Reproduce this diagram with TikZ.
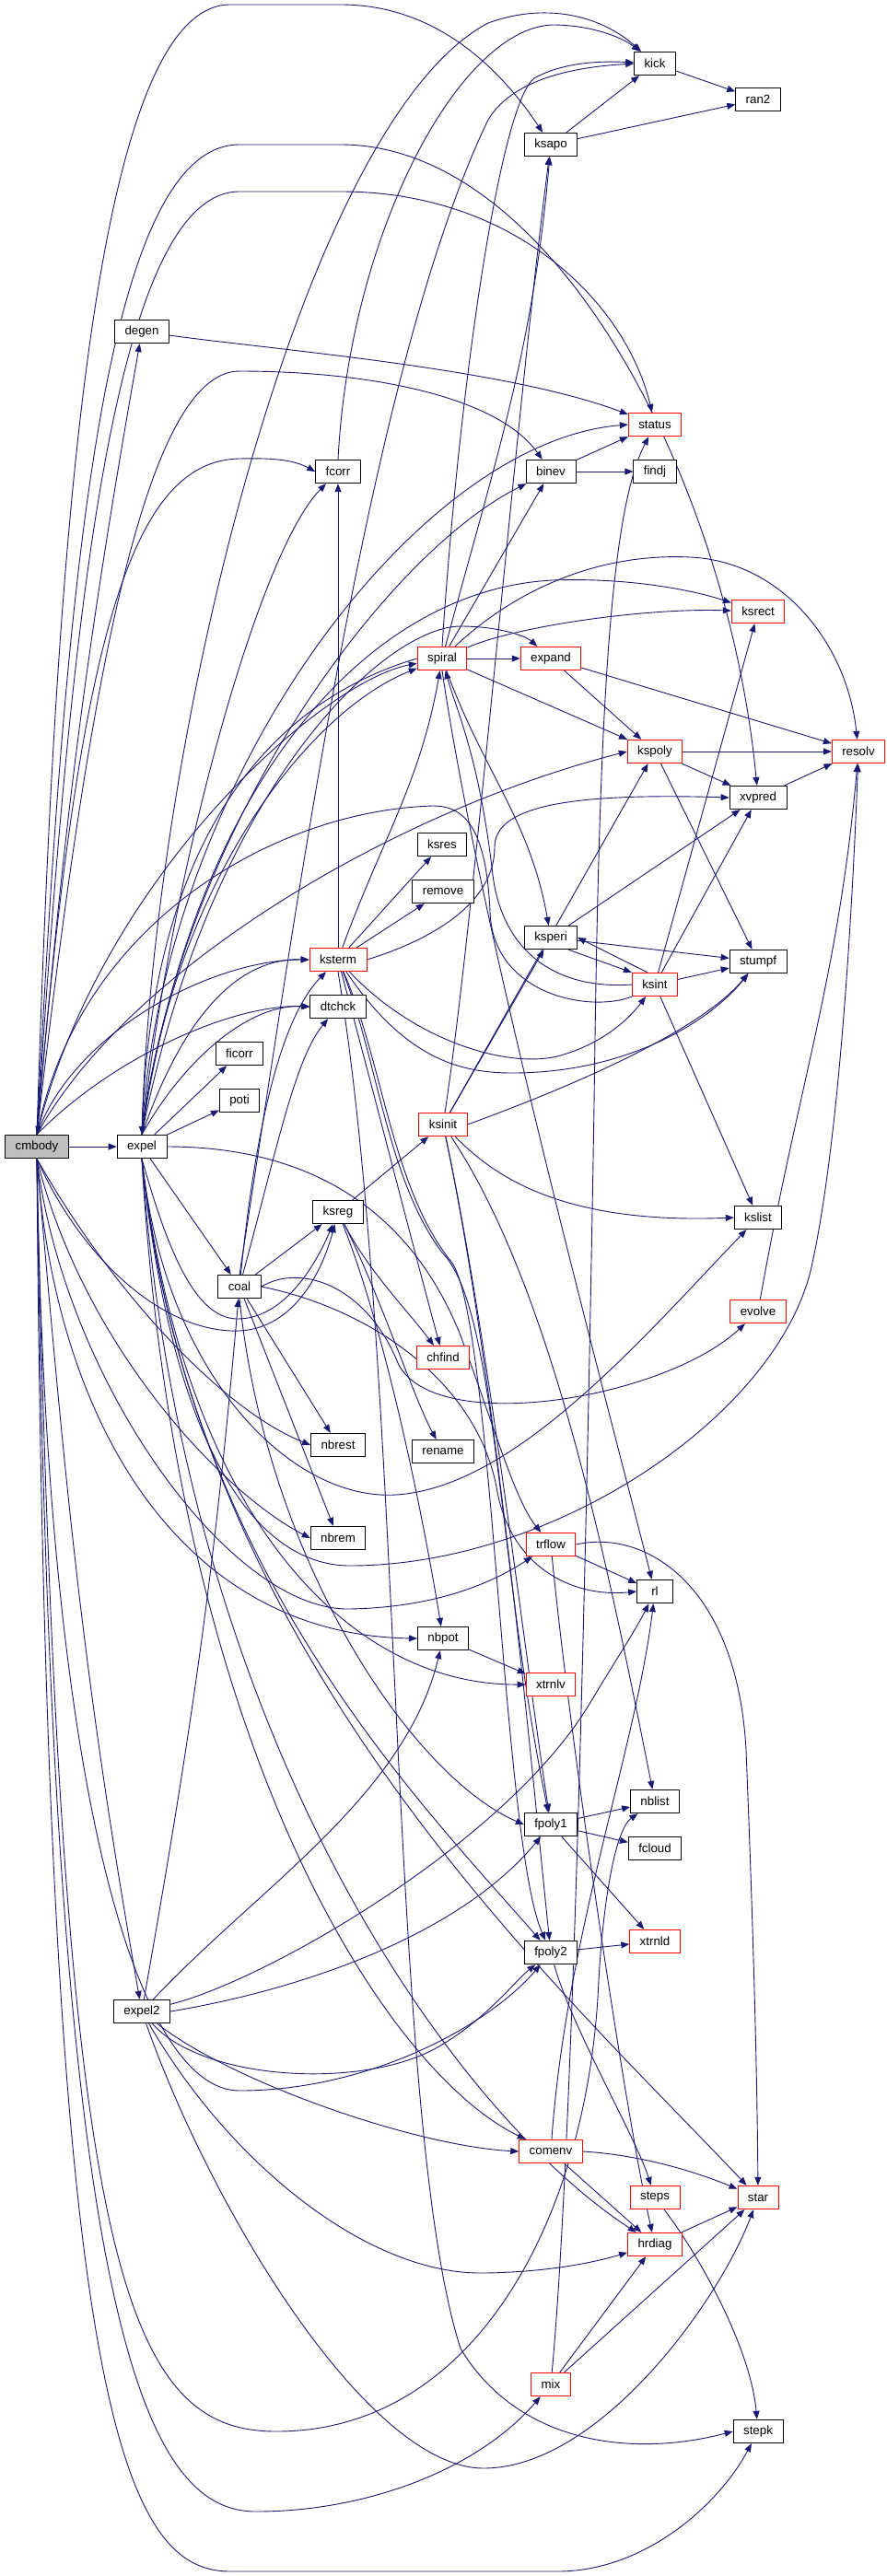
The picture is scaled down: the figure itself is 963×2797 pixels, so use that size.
\documentclass[tikz,border=0pt]{standalone}
\usepackage{fontspec}
\setmainfont{Liberation Sans}
\usetikzlibrary{arrows.meta,backgrounds}
\definecolor{edgeblue}{HTML}{191970}
\definecolor{rootgray}{HTML}{BFBFBF}

\begin{document}
\begin{tikzpicture}[x=1pt,y=1pt,
    fn/.style={draw=black,line width=0.8pt,fill=white,inner xsep=11pt,inner ysep=0pt,
      minimum height=25.5pt,minimum width=39pt,font=\fontsize{13.3}{15}\selectfont},
    fnred/.style={fn,draw=red},
    fnroot/.style={fn,fill=rootgray},
    call/.style={draw=edgeblue,line width=0.9pt,-{Triangle[length=9pt,width=7pt]}}]
    \useasboundingbox (0,0) rectangle (963,-2797);

    % rank 0 and 1
    \node[fnroot] (cmbody) at (40,-1245) {cmbody};
    \node[fn] (expel) at (154,-1245) {expel};
    \node[fn] (degen) at (154,-360) {degen};
    \node[fn] (expel2) at (154,-2184) {expel2};
    % rank 2
    \node[fn] (ficorr) at (260,-1144) {ficorr};
    \node[fn] (poti) at (260,-1195) {poti};
    \node[fn] (coal) at (260,-1397) {coal};
    \node[fn] (fcorr) at (367,-512) {fcorr};
    \node[fnred] (ksterm) at (367,-1042) {ksterm};
    \node[fn] (dtchck) at (367,-1093) {dtchck};
    \node[fn] (ksreg) at (367,-1316) {ksreg};
    \node[fn] (nbrest) at (367,-1569) {nbrest};
    \node[fn] (nbrem) at (367,-1670) {nbrem};
    % rank 3
    \node[fnred] (spiral) at (480,-715) {spiral};
    \node[fn] (ksres) at (480,-917) {ksres};
    \node[fn] (remove) at (481,-968) {remove};
    \node[fnred] (ksinit) at (481,-1221) {ksinit};
    \node[fnred] (chfind) at (481,-1474) {chfind};
    \node[fn] (rename) at (481,-1576) {rename};
    \node[fn] (nbpot) at (481,-1779) {nbpot};
    % rank 4
    \node[fn] (ksapo) at (598,-157) {ksapo};
    \node[fn] (binev) at (598,-512) {binev};
    \node[fnred] (expand) at (598,-715) {expand};
    \node[fn] (ksperi) at (598,-1018) {ksperi};
    \node[fnred] (trflow) at (598,-1677) {trflow};
    \node[fnred] (xtrnlv) at (598,-1829) {xtrnlv};
    \node[fn] (fpoly1) at (598,-1981) {fpoly1};
    \node[fn] (fpoly2) at (598,-2120) {fpoly2};
    \node[fnred] (comenv) at (598,-2336) {comenv};
    \node[fnred] (mix) at (598,-2589) {mix};
    % rank 5
    \node[fn] (kick) at (711,-69) {kick};
    \node[fnred] (status) at (711,-461) {status};
    \node[fn] (findj) at (711,-512) {findj};
    \node[fnred] (kspoly) at (711,-816) {kspoly};
    \node[fnred] (ksint) at (711,-1069) {ksint};
    \node[fn] (rl) at (711,-1728) {rl};
    \node[fn] (nblist) at (711,-1956) {nblist};
    \node[fn] (fcloud) at (711,-2007) {fcloud};
    \node[fnred] (xtrnld) at (711,-2108) {xtrnld};
    \node[fnred] (steps) at (711,-2386) {steps};
    \node[fnred] (hrdiag) at (711,-2437) {hrdiag};
    % rank 6 and 7
    \node[fn] (ran2) at (823,-108) {ran2};
    \node[fnred] (ksrect) at (823,-664) {ksrect};
    \node[fn] (xvpred) at (823,-866) {xvpred};
    \node[fn] (stumpf) at (823,-1044) {stumpf};
    \node[fn] (kslist) at (823,-1322) {kslist};
    \node[fnred] (evolve) at (823,-1424) {evolve};
    \node[fnred] (star) at (823,-2386) {star};
    \node[fn] (stepk) at (823,-2640) {stepk};
    \node[fnred] (resolv) at (932,-816) {resolv};

    \begin{scope}[on background layer]
    \fill[white] (0,0) rectangle (963,-2797);

    % Arrows from cmbody
    \draw[call] (cmbody) -- (expel);
    \draw[call] (cmbody.north) to[out=85,in=-100] (degen);
    \draw[call] (cmbody.south) to[out=-85,in=100] (expel2);
    \draw[call] (cmbody.north) .. controls (60,-600) and (100,-5) .. (250,-5) -- (370,-5) .. controls (470,-5) and (540,-70) .. (ksapo);
    \draw[call] (cmbody.north) .. controls (70,-650) and (110,-157) .. (260,-157) -- (370,-157) .. controls (600,-157) and (790,-520) .. (xvpred);
    \draw[call] (cmbody.north) .. controls (75,-700) and (120,-208) .. (260,-208) -- (370,-208) .. controls (560,-208) and (680,-330) .. (status);
    \draw[call] (cmbody.north) .. controls (90,-800) and (150,-403) .. (260,-403) .. controls (400,-403) and (540,-430) .. (binev);
    \draw[call] (cmbody.north) .. controls (85,-700) and (140,-500) .. (260,-498) .. controls (300,-497) and (320,-500) .. (fcorr.west);
    \draw[call] (cmbody.north) .. controls (110,-950) and (350,-740) .. (spiral);
    \draw[call] (cmbody.north) .. controls (140,-1050) and (430,-880) .. (kspoly.west);
    \draw[call] (cmbody.north) .. controls (80,-1120) and (230,-1042) .. (ksterm.west);
    \draw[call] (cmbody.north) .. controls (120,-1150) and (250,-1090) .. (dtchck.west);
    \draw[call] (cmbody.south) .. controls (90,-1370) and (180,-1448) .. (260,-1445) .. controls (320,-1442) and (350,-1380) .. (ksreg);
    \draw[call] (cmbody.south) .. controls (120,-1400) and (240,-1530) .. (nbrest.west);
    \draw[call] (cmbody.south) .. controls (90,-1460) and (240,-1620) .. (nbrem.west);
    \draw[call] (cmbody.south) .. controls (70,-1500) and (250,-1750) .. (380,-1747) .. controls (480,-1745) and (540,-1715) .. (trflow);
    \draw[call] (cmbody.south) .. controls (60,-1550) and (200,-1775) .. (nbpot.west);
    \draw[call] (cmbody.south) .. controls (50,-1950) and (150,-2270) .. (260,-2270) .. controls (400,-2270) and (530,-2200) .. (fpoly2);
    \draw[call] (cmbody.south) .. controls (55,-2500) and (150,-2727) .. (278,-2727) .. controls (400,-2727) and (520,-2680) .. (mix);
    \draw[call] (cmbody.south) .. controls (50,-2600) and (130,-2792) .. (250,-2792) -- (605,-2792) .. controls (700,-2792) and (780,-2720) .. (stepk);
    \draw[call] (cmbody.south) .. controls (65,-2450) and (130,-2640) .. (300,-2640) .. controls (520,-2640) and (640,-2400) .. (650,-2150) .. controls (656,-2050) and (670,-1985) .. (nblist);
    \draw[call] (ksint.south west) .. controls (640,-1100) and (535,-1080) .. (532,-990) .. controls (528,-900) and (505,-875) .. (470,-875) .. controls (300,-880) and (90,-1000) .. (cmbody.north);

    % Arrows from expel
    \draw[call] (expel) -- (ficorr);
    \draw[call] (expel) -- (poti);
    \draw[call] (expel) -- (coal);
    \draw[call] (expel.north) .. controls (165,-800) and (330,-130) .. (530,-25) .. controls (590,-3) and (650,-15) .. (kick);
    \draw[call] (expel.north) .. controls (185,-950) and (280,-600) .. (fcorr);
    \draw[call] (expel.north) .. controls (175,-850) and (450,-480) .. (status.west);
    \draw[call] (expel.north) .. controls (195,-900) and (420,-600) .. (binev);
    \draw[call] (expel.north) .. controls (210,-850) and (400,-640) .. (600,-630) .. controls (680,-627) and (750,-640) .. (ksrect);
    \draw[call] (expel.north) .. controls (230,-850) and (420,-680) .. (500,-680) .. controls (540,-680) and (570,-690) .. (expand);
    \draw[call] (expel.north) .. controls (190,-950) and (340,-770) .. (spiral);
    \draw[call] (expel.north) .. controls (200,-1100) and (260,-1040) .. (ksterm.west);
    \draw[call] (expel.north) .. controls (200,-1150) and (270,-1090) .. (dtchck.west);
    \draw[call] (expel.south) .. controls (180,-1350) and (210,-1432) .. (258,-1432) .. controls (305,-1432) and (340,-1380) .. (ksreg);
    \draw[call] (expel.east) .. controls (320,-1245) and (440,-1300) .. (500,-1450) .. controls (540,-1560) and (560,-1630) .. (trflow);
    \draw[call] (expel.south) .. controls (200,-1650) and (380,-1830) .. (xtrnlv.west);
    \draw[call] (expel.south) .. controls (190,-1600) and (290,-1700) .. (380,-1700) .. controls (600,-1700) and (840,-1540) .. (880,-1380) .. controls (910,-1250) and (925,-1000) .. (resolv);
    \draw[call] (expel.south) .. controls (180,-1500) and (320,-1630) .. (430,-1623) .. controls (560,-1615) and (700,-1450) .. (kslist);
    \draw[call] (expel.south) .. controls (200,-1700) and (450,-1950) .. (fpoly2);
    \draw[call] (expel.south) .. controls (190,-1900) and (420,-2250) .. (comenv);
    \draw[call] (expel.south) .. controls (200,-1900) and (500,-2300) .. (hrdiag);
    \draw[call] (expel.south) .. controls (210,-1800) and (600,-2150) .. (star);

    % Arrows from spiral
    \draw[call] (spiral.west) .. controls (300,-760) and (165,-900) .. (expel.north);
    \draw[call] (spiral.north) .. controls (500,-400) and (545,-110) .. (580,-85) .. controls (610,-68) and (650,-66) .. (kick);
    \draw[call] (spiral) to[out=75,in=-95] (ksapo);
    \draw[call] (spiral) -- (binev);
    \draw[call] (spiral) -- (expand);
    \draw[call] (spiral) .. controls (560,-680) and (700,-660) .. (ksrect);
    \draw[call] (spiral) .. controls (560,-640) and (650,-600) .. (750,-605) .. controls (850,-610) and (920,-700) .. (resolv);
    \draw[call] (spiral) -- (kspoly);
    \draw[call] (spiral) to[out=-70,in=100] (ksperi);
    \draw[call] (spiral.south) .. controls (520,-1000) and (640,-1450) .. (rl);

    % Arrows in the upper right
    \draw[call] (degen) .. controls (300,-380) and (550,-400) .. (status);
    \draw[call] (kick) -- (ran2);
    \draw[call] (ksapo) -- (ran2);
    \draw[call] (ksapo) -- (kick);
    \draw[call] (fcorr.north) .. controls (380,-250) and (500,-30) .. (600,-27) .. controls (640,-27) and (675,-40) .. (kick);
    \draw[call] (binev) -- (status);
    \draw[call] (binev) -- (findj);
    \draw[call] (expand) -- (kspoly);
    \draw[call] (expand) -- (resolv);
    \draw[call] (kspoly) -- (resolv);
    \draw[call] (kspoly) -- (xvpred);
    \draw[call] (kspoly) -- (stumpf);
    \draw[call] (xvpred) -- (resolv);
    \draw[call] (ksperi) -- (stumpf);
    \draw[call] ([xshift=-10pt]ksperi.south east) -- (ksint.north west);
    \draw[call] ([xshift=-8pt]ksint.north) -- (ksperi.east);
    \draw[call] (ksperi) -- (xvpred);
    \draw[call] (ksint) -- (stumpf);
    \draw[call] (ksint) -- (kslist);
    \draw[call] (ksint) -- (ksrect);
    \draw[call] (ksint) -- (xvpred);
    \draw[call] (ksint.west) .. controls (600,-1075) and (545,-1030) .. (535,-950) .. controls (520,-820) and (495,-770) .. (spiral);

    % Arrows from ksterm
    \draw[call] (ksterm) -- (ksres);
    \draw[call] (ksterm) -- (remove);
    \draw[call] (ksterm) to[out=70,in=-100] (spiral);
    \draw[call] (ksterm) -- (fcorr);
    \draw[call] (ksterm.east) .. controls (470,-1020) and (537,-980) .. (537,-920) .. controls (537,-880) and (600,-860) .. (xvpred.west);
    \draw[call] (ksterm) .. controls (450,-1130) and (550,-1160) .. (605,-1147) .. controls (650,-1135) and (680,-1110) .. (ksint);
    \draw[call] (ksterm) .. controls (440,-1150) and (500,-1165) .. (556,-1165) .. controls (680,-1165) and (770,-1110) .. (stumpf);
    \draw[call] (ksterm) to[out=-75,in=105] (chfind);
    \draw[call] (ksterm) .. controls (410,-1150) and (420,-1280) .. (480,-1360) .. controls (540,-1420) and (540,-1700) .. (fpoly1);
    \draw[call] (ksterm) .. controls (415,-1150) and (425,-1290) .. (490,-1370) .. controls (535,-1430) and (545,-2000) .. (fpoly2);
    \draw[call] (ksterm.south) .. controls (440,-1500) and (420,-2300) .. (500,-2550) .. controls (560,-2650) and (680,-2670) .. (stepk.west);

    % Arrows from ksinit and ksreg
    \draw[call] (ksinit) -- (ksperi);
    \draw[call] (ksinit) -- (kspoly);
    \draw[call] (ksinit.east) .. controls (620,-1180) and (760,-1120) .. (stumpf);
    \draw[call] (ksinit) .. controls (530,-1270) and (600,-1330) .. (kslist.west);
    \draw[call] (ksinit) .. controls (530,-1450) and (570,-1800) .. (fpoly1);
    \draw[call] (ksinit) .. controls (540,-1500) and (580,-1950) .. (fpoly2);
    \draw[call] (ksinit) .. controls (515,-1000) and (560,-450) .. (ksapo);
    \draw[call] (ksinit) .. controls (600,-1400) and (660,-1700) .. (nblist);
    \draw[call] (ksreg) -- (ksinit);
    \draw[call] (ksreg) .. controls (400,-1380) and (440,-1420) .. (chfind);
    \draw[call] (ksreg) .. controls (410,-1400) and (450,-1520) .. (rename);
    \draw[call] (ksreg) .. controls (420,-1450) and (460,-1650) .. (nbpot);

    % Arrows from coal
    \draw[call] (coal) -- (ksreg);
    \draw[call] (coal) -- (nbrest);
    \draw[call] (coal) -- (nbrem);
    \draw[call] (coal.east) .. controls (330,-1370) and (400,-1400) .. (432,-1480) .. controls (470,-1560) and (720,-1520) .. (evolve);
    \draw[call] (coal) .. controls (300,-1250) and (320,-1150) .. (dtchck);
    \draw[call] (coal) .. controls (280,-1200) and (310,-1100) .. (ksterm);
    \draw[call] (coal.north) .. controls (320,-1000) and (400,-400) .. (530,-130) .. controls (560,-80) and (640,-72) .. (kick.west);
    \draw[call] (coal.south) .. controls (290,-1700) and (450,-1930) .. (fpoly1.west);
    \draw[call] (coal.east) .. controls (400,-1420) and (520,-1500) .. (540,-1620) .. controls (555,-1700) and (620,-1735) .. (rl.west);

    % Arrows in the lower right
    \draw[call] (evolve) to[out=80,in=-95] (resolv);
    \draw[call] (trflow) -- (rl);
    \draw[call] (trflow.east) .. controls (700,-1660) and (800,-1720) .. (810,-1900) .. controls (818,-2100) and (822,-2250) .. (star);
    \draw[call] (trflow) .. controls (620,-1900) and (680,-2300) .. (hrdiag);
    \draw[call] (nbpot) -- (xtrnlv);
    \draw[call] (fpoly1) -- (nblist);
    \draw[call] (fpoly1) -- (fcloud);
    \draw[call] (fpoly1) -- (xtrnld);
    \draw[call] (fpoly2) -- (xtrnld);
    \draw[call] (fpoly2) .. controls (620,-2200) and (690,-2320) .. (steps);
    \draw[call] (comenv.east) .. controls (700,-2340) and (760,-2360) .. (star);
    \draw[call] (comenv) -- (hrdiag);
    \draw[call] (comenv) .. controls (615,-2100) and (690,-1900) .. (rl);
    \draw[call] (hrdiag) -- (star);
    \draw[call] (steps) .. controls (760,-2450) and (815,-2550) .. (stepk);
    \draw[call] (mix) -- (hrdiag);
    \draw[call] (mix) -- (star);
    \draw[call] (mix) .. controls (625,-2300) and (640,-1500) .. (645,-1200) .. controls (650,-800) and (660,-560) .. (status);

    % Arrows from expel2
    \draw[call] (expel2) to[out=80,in=-95] (coal);
    \draw[call] (expel2) .. controls (280,-2050) and (440,-1950) .. (nbpot);
    \draw[call] (expel2) .. controls (290,-2150) and (550,-2000) .. (640,-1850) .. controls (670,-1800) and (690,-1770) .. (rl);
    \draw[call] (expel2.east) .. controls (330,-2160) and (500,-2100) .. (fpoly1);
    \draw[call] (expel2) .. controls (220,-2260) and (400,-2270) .. (480,-2220) .. controls (530,-2190) and (560,-2150) .. (fpoly2);
    \draw[call] (expel2) .. controls (250,-2260) and (450,-2330) .. (comenv.west);
    \draw[call] (expel2) .. controls (250,-2350) and (400,-2470) .. (525,-2468) .. controls (600,-2467) and (650,-2455) .. (hrdiag);
    \draw[call] (expel2) .. controls (230,-2400) and (400,-2680) .. (525,-2680) .. controls (650,-2680) and (780,-2500) .. (star);
    \end{scope}
\end{tikzpicture}
\end{document}
